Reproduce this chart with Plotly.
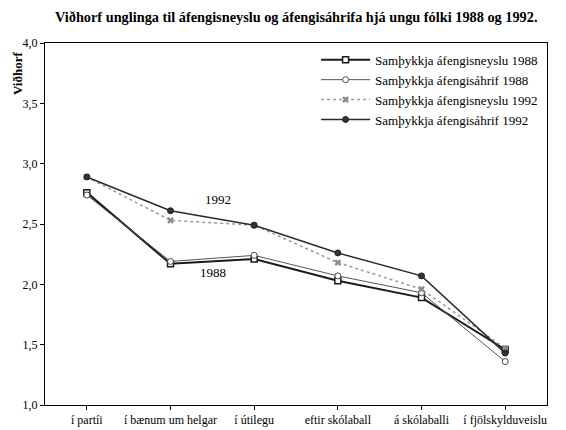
import plotly.graph_objects as go

categories = ["í partíi", "í bænum um helgar", "í útilegu", "eftir skólaball", "á skólaballi", "í fjölskylduveislu"]
neyslu_1988 = [2.76, 2.17, 2.21, 2.03, 1.89, 1.46]
ahrif_1988 = [2.74, 2.19, 2.24, 2.07, 1.93, 1.36]
neyslu_1992 = [2.89, 2.53, 2.49, 2.18, 1.96, 1.47]
ahrif_1992 = [2.89, 2.61, 2.49, 2.26, 2.07, 1.43]
series_names = ["Samþykkja áfengisneyslu 1988", "Samþykkja áfengisáhrif 1988",
                "Samþykkja áfengisneyslu 1992", "Samþykkja áfengisáhrif 1992"]
y_ticks = [1.0, 1.5, 2.0, 2.5, 3.0, 3.5, 4.0]

FONT = "Liberation Serif, Times New Roman, serif"

fig = go.Figure()
fig.add_trace(go.Scatter(x=categories, y=neyslu_1988, name=series_names[0], mode="lines+markers",
                         line=dict(color="#1a1a1a", width=2),
                         marker=dict(symbol="square", size=6, color="white", line=dict(color="#1a1a1a", width=1.5))))
fig.add_trace(go.Scatter(x=categories, y=ahrif_1988, name=series_names[1], mode="lines+markers",
                         line=dict(color="#555555", width=1),
                         marker=dict(symbol="circle", size=6, color="white", line=dict(color="#444444", width=1))))
fig.add_trace(go.Scatter(x=categories, y=neyslu_1992, name=series_names[2], mode="lines+markers",
                         line=dict(color="#9a9a9a", width=1.5, dash="dot"),
                         marker=dict(symbol="x", size=6, color="#8a8a8a", line=dict(width=0))))
fig.add_trace(go.Scatter(x=categories, y=ahrif_1992, name=series_names[3], mode="lines+markers",
                         line=dict(color="#2a2a2a", width=1.5),
                         marker=dict(symbol="circle", size=6, color="#333333", line=dict(color="#222222", width=1))))

fig.update_layout(
    template="none",
    width=558, height=422,
    margin=dict(l=37, r=19, t=35, b=25, autoexpand=False),
    paper_bgcolor="white", plot_bgcolor="white",
    font=dict(family=FONT, size=12, color="black"),
    separators=",.",
    showlegend=True,
    legend=dict(x=0.54, y=0.995, xanchor="left", yanchor="top",
                bgcolor="rgba(0,0,0,0)", borderwidth=0,
                font=dict(family=FONT, size=13), itemwidth=49, tracegroupgap=0),
    annotations=[
        dict(text="<b>Viðhorf unglinga til áfengisneyslu og áfengisáhrifa hjá ungu fólki 1988 og 1992.</b>",
             xref="paper", yref="paper", x=0.5, y=1, yshift=26, xanchor="center", yanchor="middle",
             showarrow=False, font=dict(family=FONT, size=14.3)),
        dict(text="<b>Viðhorf</b>", xref="paper", yref="paper", x=0, xshift=-28, y=0.917, textangle=-90,
             xanchor="center", yanchor="middle", showarrow=False, font=dict(family=FONT, size=13)),
        dict(text="1992", xref="x", yref="y", x=1.57, y=2.70, showarrow=False, font=dict(family=FONT, size=13)),
        dict(text="1988", xref="x", yref="y", x=1.51, y=2.10, showarrow=False, font=dict(family=FONT, size=13)),
    ],
)
fig.update_xaxes(type="category", range=[-0.5, 5.5], showline=True, linecolor="black", linewidth=1,
                 mirror=True, ticks="outside", ticklen=4, tickcolor="black", showgrid=False, automargin=False,
                 tickfont=dict(family=FONT, size=12))
fig.update_yaxes(range=[1, 4], tickvals=y_ticks, tickformat=".1f", showline=True, linecolor="black",
                 linewidth=1, mirror=True, ticks="outside", ticklen=4, tickcolor="black", showgrid=False,
                 zeroline=False, automargin=False, tickfont=dict(family=FONT, size=12))

fig.write_html("out.html")
